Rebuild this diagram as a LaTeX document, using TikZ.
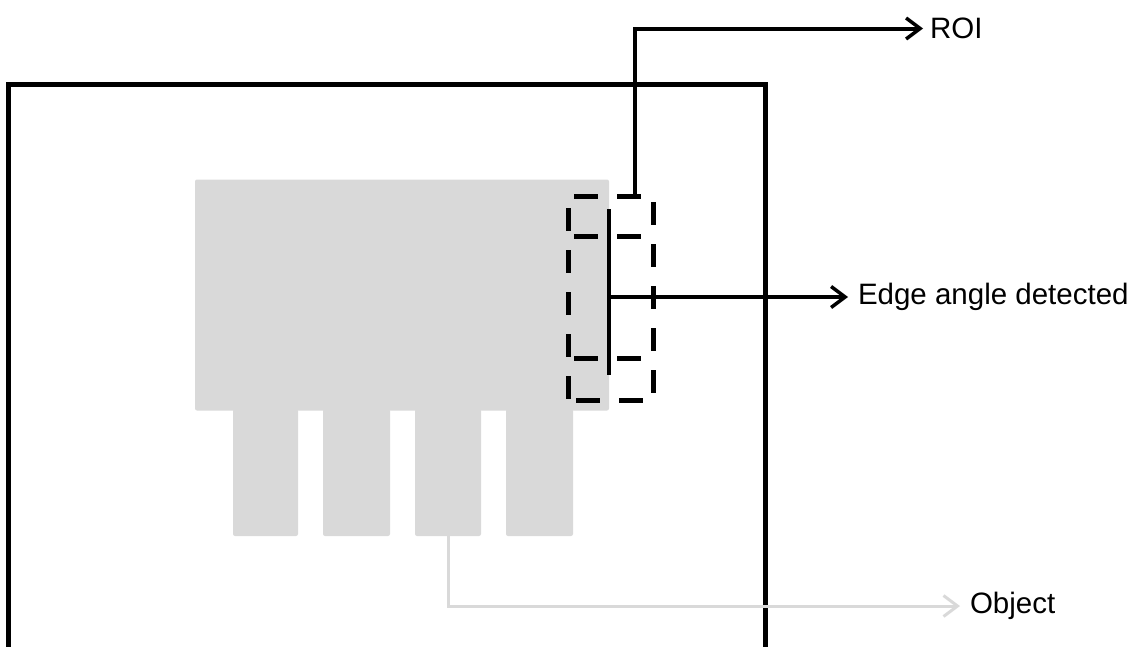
\documentclass[tikz,border=0pt]{standalone}
\usepackage{fontspec}
\setmainfont{Liberation Sans}
\usetikzlibrary{arrows.meta}
\definecolor{objgray}{HTML}{D9D9D9}
\tikzset{
  objpart/.style={fill=objgray, draw=none, rounded corners=2pt, inner sep=0pt, outer sep=0pt},
  roibox/.style={draw=none, inner sep=0pt, outer sep=0pt},
  hdash/.style={draw=black, line width=5pt, dash pattern=on 24pt off 19pt},
  vdash/.style={draw=black, line width=5pt, dash pattern=on 23pt off 19pt},
  label/.style={anchor=west, inner sep=0pt, outer sep=0pt, font=\fontsize{29.5}{35}\selectfont},
  blackarrow/.style={draw=black, -{Straight Barb[length=14pt,width=21pt,line width=3.5pt]}},
  grayarrow/.style={draw=objgray, line width=3pt, -{Straight Barb[length=14pt,width=21pt,line width=3pt]}},
}
\begin{document}
\begin{tikzpicture}[x=1pt,y=-1pt]
\useasboundingbox (0,0) rectangle (1133,646);
\begin{scope}
\clip (0,0) rectangle (1133,646);
% frame
\draw[line width=5pt] (8.5,700) -- (8.5,84) -- (765,84) -- (765,700);
\end{scope}
% object
\node[objpart, minimum width=414pt, minimum height=231pt] (body) at (402,295) {};
\node[objpart, minimum width=65pt, minimum height=127pt] (t1) at (265.5,472.5) {};
\node[objpart, minimum width=67pt, minimum height=127pt] (t2) at (356.5,472.5) {};
\node[objpart, minimum width=66pt, minimum height=127pt] (t3) at (448,472.5) {};
\node[objpart, minimum width=67pt, minimum height=127pt] (t4) at (539.5,472.5) {};
% ROI (west 568, east 653, north 196, south 400)
\node[roibox, minimum width=85pt, minimum height=204pt] (roi) at (610.5,298) {};
\draw[hdash] ([xshift=6pt]roi.north west) -- ([xshift=-12pt]roi.north east);
\draw[hdash] ([xshift=6pt,yshift=-40pt]roi.north west) -- ([xshift=-12pt,yshift=-40pt]roi.north east);
\draw[hdash] ([xshift=6pt,yshift=42pt]roi.south west) -- ([xshift=-12pt,yshift=42pt]roi.south east);
\draw[hdash] ([xshift=8pt]roi.south west) -- ([xshift=-8pt]roi.south east);
\draw[vdash] ([yshift=-12pt]roi.north west) -- (roi.south west);
\draw[vdash] ([yshift=-6pt]roi.north east) -- ([yshift=6pt]roi.south east);
% detected edge
\coordinate (edgetop) at (609,209);
\coordinate (edgebot) at (609,375);
\coordinate (edgemid) at (609,297);
\draw[line width=3.5pt] (edgetop) -- (edgebot);
% labels
\node[label] (roilabel) at (930,28.5) {ROI};
\node[label] (edgelabel) at (858,297) {Edge angle detected};
\node[label] (objlabel) at (970,606) {Object};
% connectors
\draw[blackarrow, line width=4pt] ([xshift=24.5pt]roi.north) |- ([xshift=-7pt]roilabel.west);
\draw[blackarrow, line width=3.5pt] ([xshift=2pt]edgemid) -- ([xshift=-10pt]edgelabel.west);
\draw[grayarrow] (t3.south) |- ([xshift=-10pt]objlabel.west);
\end{tikzpicture}
\end{document}
